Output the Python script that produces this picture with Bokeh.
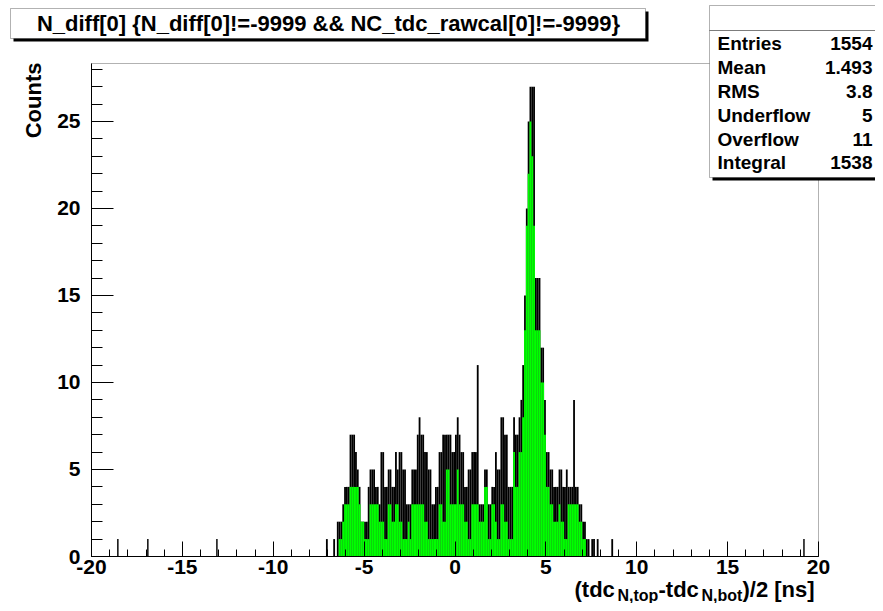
import math
from bokeh.plotting import figure
from bokeh.models import (Range1d, SingleIntervalTicker, Label, BoxAnnotation,
                          ColumnDataSource, PrintfTickFormatter)
from bokeh.embed import file_html
from bokeh.resources import INLINE

# ---------------- data ----------------
bin_width = 0.1
first_edge = -7.2
# highest count reached inside each 0.1-wide column (black outline envelope)
max_counts = [
    0, 1, 0, 0, 0, 1, 0, 2, 2, 2, 3, 4, 4, 4, 7, 7, 7, 6, 5, 4,
    2, 2, 2, 2, 4, 5, 5, 5, 4, 4, 3, 6, 6, 4, 4, 5, 5, 4, 4, 6,
    5, 6, 6, 5, 5, 3, 3, 3, 5, 5, 5, 7, 8, 7, 7, 6, 6, 5, 5, 3,
    3, 4, 4, 6, 6, 7, 7, 7, 7, 7, 6, 6, 7, 8, 7, 6, 6, 4, 4, 5,
    5, 6, 6, 6, 11, 3, 3, 3, 5, 5, 3, 3, 4, 4, 6, 5, 5, 8, 8, 7,
    7, 4, 4, 4, 8, 7, 7, 8, 9, 11, 15, 20, 25, 27, 27, 27, 16, 16, 16, 12,
    12, 9, 6, 6, 5, 5, 4, 4, 4, 5, 5, 4, 4, 5, 4, 4, 4, 9, 4, 4,
    3, 3, 2, 2, 1, 1, 0, 1, 1, 0, 1, 0, 0, 0, 0, 0, 0, 0, 1, 0,
]
# lowest count inside each column (green filled part)
fill_counts = [
    0, 0, 0, 0, 0, 0, 0, 0, 1, 1, 2, 3, 3, 3, 4, 4, 4, 4, 4, 3,
    2, 2, 1, 1, 1, 3, 3, 3, 3, 3, 2, 2, 2, 1, 1, 3, 3, 2, 2, 3,
    3, 2, 2, 1, 1, 1, 2, 1, 3, 3, 3, 3, 3, 3, 3, 2, 2, 1, 1, 1,
    1, 1, 1, 3, 3, 2, 2, 5, 5, 3, 3, 3, 3, 5, 3, 3, 3, 2, 2, 1,
    1, 3, 3, 3, 3, 2, 2, 2, 4, 4, 1, 1, 3, 3, 2, 1, 1, 3, 3, 2,
    2, 1, 1, 1, 6, 4, 4, 6, 6, 8, 13, 19, 22, 25, 23, 19, 13, 13, 13, 10,
    10, 7, 4, 4, 3, 3, 2, 2, 2, 3, 2, 2, 1, 1, 3, 3, 3, 3, 3, 3,
    2, 2, 1, 1, 0, 0, 0, 0, 0, 0, 0, 0, 0, 0, 0, 0, 0, 0, 0, 0,
]
outlier_centers = [-18.55, -16.9, -13.1, 19.2]
outlier_counts = [1, 1, 1, 1]

title_text = "N_diff[0] {N_diff[0]!=-9999 && NC_tdc_rawcal[0]!=-9999}"
stat_names = ["Entries", "Mean", "RMS", "Underflow", "Overflow", "Integral"]
stat_values = ["1554", "1.493", "3.8", "5", "11", "1538"]
y_title = "Counts"
x_title_parts = ["(tdc", "N,top", "-tdc", "N,bot", ")/2 [ns]"]

x_min, x_max = -20, 20
y_min, y_max = 0, 28.33

FONT = "Liberation Sans"

# ---------------- layout geometry (pixels) ----------------
W, H = 875, 603
frame_left, frame_right, frame_top, frame_bottom = 91, 818, 63, 556
px_x = (frame_right - frame_left) / (x_max - x_min)
px_y = (frame_bottom - frame_top) / (y_max - y_min)
xr = Range1d(x_min - frame_left / px_x, x_max + (W - frame_right) / px_x)
yr = Range1d(y_min - (H - frame_bottom) / px_y, y_max + frame_top / px_y)

p = figure(width=W, height=H, output_backend="svg", toolbar_location=None,
           x_range=xr, y_range=yr)
p.min_border = 0
p.min_border_left = 0
p.min_border_right = 0
p.min_border_top = 0
p.min_border_bottom = 0
p.background_fill_color = "white"
p.border_fill_color = "white"
p.outline_line_color = None
p.xgrid.visible = False
p.ygrid.visible = False
p.title.visible = False

# frame box
p.add_layout(BoxAnnotation(left=x_min, right=x_max, bottom=y_min, top=y_max,
                           fill_color=None, line_color="black", line_width=1))

n = len(max_counts)
lefts = [first_edge + i * bin_width for i in range(n)]
rights = [l + bin_width for l in lefts]
src = ColumnDataSource(dict(left=lefts, right=rights, top=max_counts, fill=fill_counts,
                            bottom=[0] * n))
p.quad(left="left", right="right", bottom="bottom", top="top", source=src,
       fill_color="black", line_color=None)
p.quad(left="left", right="right", bottom="bottom", top="fill", source=src,
       fill_color="#00ff00", line_color=None)
osrc = ColumnDataSource(dict(left=[c - 0.04 for c in outlier_centers],
                             right=[c + 0.04 for c in outlier_centers],
                             top=outlier_counts, bottom=[0] * len(outlier_counts)))
p.quad(left="left", right="right", bottom="bottom", top="top", source=osrc,
       fill_color="black", line_color=None)

xa, ya = p.xaxis[0], p.yaxis[0]
xa.fixed_location = y_min
xa.bounds = (x_min, x_max)
ya.fixed_location = x_min
ya.bounds = (y_min, y_max)
for ax in (xa, ya):
    ax.ticker = SingleIntervalTicker(interval=5, num_minor_ticks=5)
    ax.formatter = PrintfTickFormatter(format="%d")
    ax.major_tick_out = 0
    ax.minor_tick_out = 0
    ax.axis_line_color = "black"
    ax.major_tick_line_color = "black"
    ax.minor_tick_line_color = "black"
    ax.major_label_text_font = FONT
    ax.major_label_text_font_style = "bold"
    ax.major_label_text_font_size = "21px"
    ax.major_label_text_color = "black"
xa.major_tick_in = 15
xa.minor_tick_in = 7
xa.major_label_standoff = 3
ya.major_tick_in = 22
ya.minor_tick_in = 11
ya.major_label_standoff = 11

# ---------------- annotations (screen units: from canvas left / bottom) ----------------
def box(l, r, t, b, **kw):
    p.add_layout(BoxAnnotation(left=l, right=r, top=H - t, bottom=H - b,
                               left_units="screen", right_units="screen",
                               top_units="screen", bottom_units="screen", **kw))

def text(x, y, s, size, align="left", baseline="middle", angle=0.0):
    p.add_layout(Label(x=x, y=H - y, x_units="screen", y_units="screen", text=s,
                       angle=angle, text_font=FONT, text_font_style="bold",
                       text_font_size=size, text_align=align, text_baseline=baseline,
                       text_color="black"))

# title box with shadow
box(13, 648, 11, 41, fill_color="black", fill_alpha=1, line_color=None)
box(10, 645, 8, 38, fill_color="white", fill_alpha=1, line_color="black", line_width=1)
text(328, 23, title_text, "22px", align="center")

# stats box with shadow
box(712, 880, 8, 180, fill_color="black", fill_alpha=1, line_color=None)
box(709, 880, 5, 177, fill_color="white", fill_alpha=1, line_color="black", line_width=1)
box(709, 880, 30, 30, fill_color=None, line_color="black", line_width=1)
row_y = [43, 67, 91, 115, 139, 162]
for name, val, yy in zip(stat_names, stat_values, row_y):
    text(717, yy, name, "19px", align="left")
    text(872, yy, val, "19px", align="right")

# y axis title
text(33, 62, y_title, "22px", align="right", baseline="alphabetic", angle=math.pi / 2)

# x axis title with subscripts
part_x = [574, 617, 658, 701, 742]
part_y = [589, 595, 589, 595, 589]
part_size = ["22px", "16px", "22px", "16px", "22px"]
for t, xx, yy, fs in zip(x_title_parts, part_x, part_y, part_size):
    text(xx, yy, t, fs, align="left", baseline="alphabetic")

open("out.html", "w").write(file_html(p, INLINE))
